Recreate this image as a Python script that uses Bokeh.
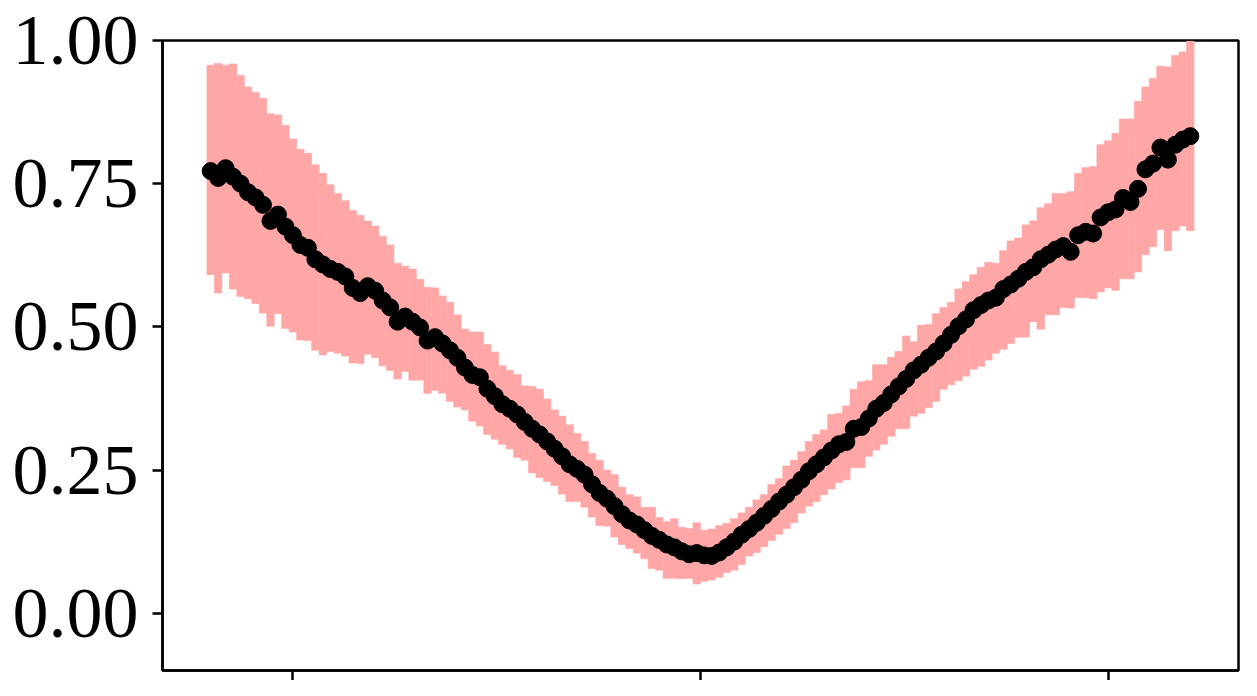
import numpy as np
from bokeh.plotting import figure
from bokeh.models import ColumnDataSource, FixedTicker, Range1d
from bokeh.embed import file_html
from bokeh.resources import INLINE

# ---- data -------------------------------------------------------------
n_bins = 132
x_first, x_last = -1.2, 1.2

mean_vals = [
    0.772, 0.760, 0.777, 0.762, 0.750, 0.735, 0.726, 0.713, 0.685, 0.696, 0.675, 0.660, 0.643, 0.638, 0.618, 0.609,
    0.601, 0.596, 0.588, 0.568, 0.559, 0.571, 0.563, 0.546, 0.534, 0.509, 0.518, 0.509, 0.499, 0.476, 0.482, 0.471,
    0.459, 0.446, 0.429, 0.416, 0.412, 0.392, 0.379, 0.365, 0.357, 0.347, 0.334, 0.322, 0.312, 0.300, 0.287, 0.274,
    0.260, 0.252, 0.242, 0.225, 0.210, 0.200, 0.187, 0.173, 0.162, 0.155, 0.145, 0.135, 0.128, 0.120, 0.115, 0.108,
    0.103, 0.105,
    0.101, 0.100, 0.106, 0.115, 0.125, 0.137, 0.147, 0.158, 0.170, 0.182, 0.195, 0.207, 0.220, 0.233, 0.248, 0.260,
    0.272, 0.284, 0.295, 0.299, 0.322, 0.325, 0.340, 0.357, 0.367, 0.382, 0.396, 0.409, 0.424, 0.434, 0.446, 0.457,
    0.471, 0.486,
    0.501, 0.513, 0.529, 0.538, 0.546, 0.551, 0.566, 0.574, 0.584, 0.596, 0.604, 0.618, 0.626, 0.635, 0.641, 0.631,
    0.660, 0.666, 0.663, 0.691, 0.700, 0.705, 0.725, 0.718, 0.741, 0.775, 0.785, 0.813, 0.792, 0.818, 0.827, 0.833,
]

upper_vals = [
    0.957, 0.960, 0.957, 0.959, 0.939, 0.919, 0.909, 0.899, 0.872, 0.870, 0.852, 0.828, 0.810, 0.803, 0.783, 0.768,
    0.748, 0.733, 0.720, 0.703, 0.695, 0.685, 0.676, 0.658, 0.643, 0.611, 0.606, 0.601, 0.583, 0.569, 0.568, 0.554,
    0.543, 0.521, 0.496, 0.491, 0.491, 0.469, 0.456, 0.432, 0.424, 0.417, 0.397, 0.396, 0.391, 0.374, 0.355, 0.344,
    0.329, 0.314, 0.300, 0.279, 0.267, 0.250, 0.242, 0.220, 0.207, 0.203, 0.185, 0.185, 0.167, 0.160, 0.165, 0.150,
    0.148, 0.158,
    0.145, 0.147, 0.153, 0.157, 0.165, 0.175, 0.185, 0.198, 0.207, 0.225, 0.235, 0.257, 0.267, 0.282, 0.300, 0.312,
    0.320, 0.347, 0.349, 0.362, 0.391, 0.404, 0.406, 0.434, 0.434, 0.447, 0.457, 0.484, 0.474, 0.503, 0.504, 0.523,
    0.534, 0.543,
    0.566, 0.579, 0.591, 0.604, 0.613, 0.611, 0.633, 0.650, 0.655, 0.678, 0.685, 0.708, 0.715, 0.733, 0.733, 0.736,
    0.768, 0.778, 0.780, 0.818, 0.825, 0.838, 0.863, 0.863, 0.894, 0.919, 0.934, 0.955, 0.954, 0.974, 0.980, 0.999,
]

lower_vals = [
    0.591, 0.559, 0.594, 0.566, 0.553, 0.549, 0.541, 0.524, 0.501, 0.523, 0.497, 0.491, 0.477, 0.476, 0.459, 0.451,
    0.457, 0.454, 0.449, 0.437, 0.436, 0.452, 0.446, 0.432, 0.424, 0.409, 0.422, 0.407, 0.407, 0.384, 0.389, 0.384,
    0.370, 0.360, 0.355, 0.335, 0.327, 0.312, 0.304, 0.295, 0.287, 0.272, 0.267, 0.245, 0.237, 0.230, 0.223, 0.208,
    0.195, 0.195, 0.185, 0.168, 0.153, 0.152, 0.133, 0.120, 0.113, 0.105, 0.095, 0.078, 0.075, 0.061, 0.061, 0.060,
    0.061, 0.051,
    0.056, 0.058, 0.063, 0.071, 0.075, 0.085, 0.100, 0.106, 0.116, 0.127, 0.138, 0.148, 0.158, 0.175, 0.187, 0.195,
    0.207, 0.217, 0.228, 0.233, 0.254, 0.254, 0.274, 0.285, 0.295, 0.309, 0.322, 0.322, 0.344, 0.349, 0.359, 0.370,
    0.391, 0.399,
    0.406, 0.414, 0.426, 0.431, 0.442, 0.454, 0.461, 0.471, 0.482, 0.482, 0.509, 0.496, 0.521, 0.521, 0.534, 0.533,
    0.551, 0.551, 0.549, 0.561, 0.568, 0.564, 0.584, 0.584, 0.596, 0.626, 0.640, 0.670, 0.633, 0.668, 0.676, 0.668,
]

y_ticks = [0.0, 0.25, 0.5, 0.75, 1.0]
y_tick_labels = ["0.00", "0.25", "0.50", "0.75", "1.00"]
x_ticks = [-1, 0, 1]

# ---- figure -----------------------------------------------------------
x_vals = np.linspace(x_first, x_last, n_bins)
bin_w = float(x_vals[1] - x_vals[0])

src = ColumnDataSource(dict(x=x_vals, mean=mean_vals, upper=upper_vals, lower=lower_vals))

p = figure(
    width=1241, height=680,
    x_range=Range1d(-1.318, 1.318), y_range=Range1d(-0.1, 1.0),
    output_backend="svg", toolbar_location=None, tools="",
    min_border_left=162, min_border_right=3, min_border_top=40, min_border_bottom=0,
    background_fill_color="white", border_fill_color="white",
)
p.grid.visible = False
p.outline_line_color = "black"
p.outline_line_width = 2.5
p.outline_line_alpha = 1.0

p.vbar(x="x", width=bin_w, top="upper", bottom="lower", source=src,
       fill_color="#ffa6a6", line_color="#ffa6a6", line_width=0.6)
p.scatter("x", "mean", source=src, size=17, fill_color="black", line_color="black")

# y axis
p.yaxis.ticker = FixedTicker(ticks=y_ticks)
p.yaxis.major_label_overrides = {t: l for t, l in zip(y_ticks, y_tick_labels)}
p.yaxis.major_label_text_font = "Liberation Serif"
p.yaxis.major_label_text_font_size = "72px"
p.yaxis.major_label_text_color = "black"
p.yaxis.major_label_standoff = 14
p.yaxis.major_tick_out = 10
p.yaxis.major_tick_in = 0
p.yaxis.major_tick_line_width = 2.5
p.yaxis.major_tick_line_color = "black"
p.yaxis.minor_tick_line_color = None
p.yaxis.axis_line_width = 2.5
p.yaxis.axis_line_color = "black"

# x axis: ticks only, no tick labels
p.xaxis.ticker = FixedTicker(ticks=x_ticks)
p.xaxis.major_label_text_font_size = "1px"
p.xaxis.major_label_text_color = None
p.xaxis.major_label_standoff = 0
p.xaxis.major_tick_out = 10
p.xaxis.major_tick_in = 0
p.xaxis.major_tick_line_width = 2.5
p.xaxis.major_tick_line_color = "black"
p.xaxis.minor_tick_line_color = None
p.xaxis.axis_line_width = 2.5
p.xaxis.axis_line_color = "black"

open("out.html", "w").write(file_html(p, INLINE))
